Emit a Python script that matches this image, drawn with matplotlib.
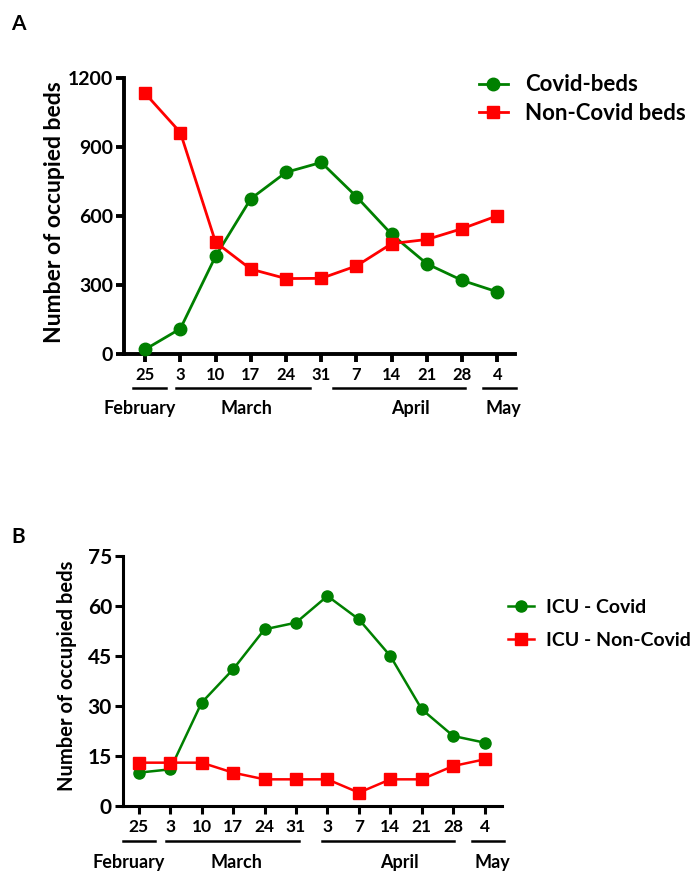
import matplotlib
matplotlib.use("Agg")
import matplotlib.pyplot as plt
from matplotlib.transforms import blended_transform_factory

plt.rcParams['font.family'] = ['Lato', 'DejaVu Sans']
plt.rcParams['font.weight'] = 'bold'

# ---- data ----
ticks_a = ["25", "3", "10", "17", "24", "31", "7", "14", "21", "28", "4"]
covid_a = [20, 110, 425, 675, 790, 833, 684, 520, 392, 320, 270]
noncovid_a = [1133, 963, 486, 369, 328, 329, 383, 480, 498, 545, 601]

ticks_b = ["25", "3", "10", "17", "24", "31", "3", "7", "14", "21", "28", "4"]
covid_b = [10, 11, 31, 41, 53, 55, 63, 56, 45, 29, 21, 19]
noncovid_b = [13, 13, 13, 10, 8, 8, 8, 4, 8, 8, 12, 14]

months = ["February", "March", "April", "May"]

GREEN = "#008000"
RED = "#ff0000"

W, H = 698, 872
fig = plt.figure(figsize=(W / 100, H / 100), dpi=100)


def px_rect(l, r, b, t):
    return [l / W, 1 - b / H, (r - l) / W, (b - t) / H]


def style(ax, lw, ytick_fs, xtick_fs):
    for s in ["top", "right"]:
        ax.spines[s].set_visible(False)
    for s in ["left", "bottom"]:
        ax.spines[s].set_linewidth(lw)
    ax.tick_params(axis="both", width=lw, length=6, direction="out")
    ax.tick_params(axis="y", labelsize=ytick_fs, pad=2)
    ax.tick_params(axis="x", labelsize=xtick_fs, pad=3)
    for lab in ax.get_xticklabels() + ax.get_yticklabels():
        lab.set_fontweight("bold")


# ---------------- Panel A ----------------
axA = fig.add_axes(px_rect(124, 515, 354, 78))
xa = list(range(len(ticks_a)))
axA.plot(xa, covid_a, color=GREEN, lw=2, marker="o", ms=9, label="Covid-beds", clip_on=False, zorder=3)
axA.plot(xa, noncovid_a, color=RED, lw=2, marker="s", ms=9, label="Non-Covid beds", clip_on=False, zorder=3)
axA.set_xlim(-0.6, 10.5)
axA.set_ylim(0, 1200)
axA.set_yticks([0, 300, 600, 900, 1200])
axA.set_xticks(xa)
axA.set_xticklabels(ticks_a)
style(axA, 2.8, 14, 12)
axA.set_ylabel("Number of occupied beds", fontsize=16.5, fontweight="bold")
axA.yaxis.set_label_coords(-0.151, 0.513)
legA = axA.legend(loc="upper left", bbox_to_anchor=(0.885, 1.045), frameon=False,
                  fontsize=16, handlelength=1.3, handletextpad=0.77, labelspacing=0.35,
                  borderaxespad=0)
for t in legA.get_texts():
    t.set_fontweight("bold")

trA = blended_transform_factory(axA.transData, fig.transFigure)
lines_a = [(-0.35, 0.6), (0.88, 4.69), (5.34, 9.09), (9.6, 10.54)]
labels_a = [-0.15, 2.89, 7.53, 10.17]
for (x0, x1), xc, m in zip(lines_a, labels_a, months):
    axA.plot([x0, x1], [1 - 388 / H] * 2, transform=trA, color="black", lw=1.8, clip_on=False)
    axA.text(xc, 1 - 408 / H, m, transform=trA, ha="center", va="center",
             fontsize=13, fontweight="bold")

fig.text(18.5 / W, 1 - 24.5 / H, "A", fontsize=15, fontweight="bold", ha="center", va="center")

# ---------------- Panel B ----------------
axB = fig.add_axes(px_rect(123, 502, 806, 556))
xb = list(range(len(ticks_b)))
axB.plot(xb, covid_b, color=GREEN, lw=1.8, marker="o", ms=8, label="ICU - Covid", clip_on=False, zorder=3)
axB.plot(xb, noncovid_b, color=RED, lw=1.8, marker="s", ms=8, label="ICU - Non-Covid", clip_on=False, zorder=3)
axB.set_xlim(-0.5, 11.55)
axB.set_ylim(0, 75)
axB.set_yticks([0, 15, 30, 45, 60, 75])
axB.set_xticks(xb)
axB.set_xticklabels(ticks_b)
style(axB, 2.2, 15, 12.5)
axB.set_ylabel("Number of occupied beds", fontsize=14.5, fontweight="bold")
axB.yaxis.set_label_coords(-0.121, 0.522)
legB = axB.legend(loc="upper left", bbox_to_anchor=(0.996, 0.86), frameon=False,
                  fontsize=14, handlelength=1.3, handletextpad=0.62, labelspacing=0.85,
                  borderaxespad=0)
for t in legB.get_texts():
    t.set_fontweight("bold")

trB = blended_transform_factory(axB.transData, fig.transFigure)
lines_b = [(-0.51, 0.51), (0.86, 5.1), (5.83, 10.03), (10.6, 11.62)]
labels_b = [-0.33, 3.11, 8.28, 11.24]
for (x0, x1), xc, m in zip(lines_b, labels_b, months):
    axB.plot([x0, x1], [1 - 841 / H] * 2, transform=trB, color="black", lw=1.8, clip_on=False)
    axB.text(xc, 1 - 862 / H, m, transform=trB, ha="center", va="center",
             fontsize=13, fontweight="bold")

fig.text(18.5 / W, 1 - 537 / H, "B", fontsize=15, fontweight="bold", ha="center", va="center")

fig.savefig("out.png", dpi=100)
